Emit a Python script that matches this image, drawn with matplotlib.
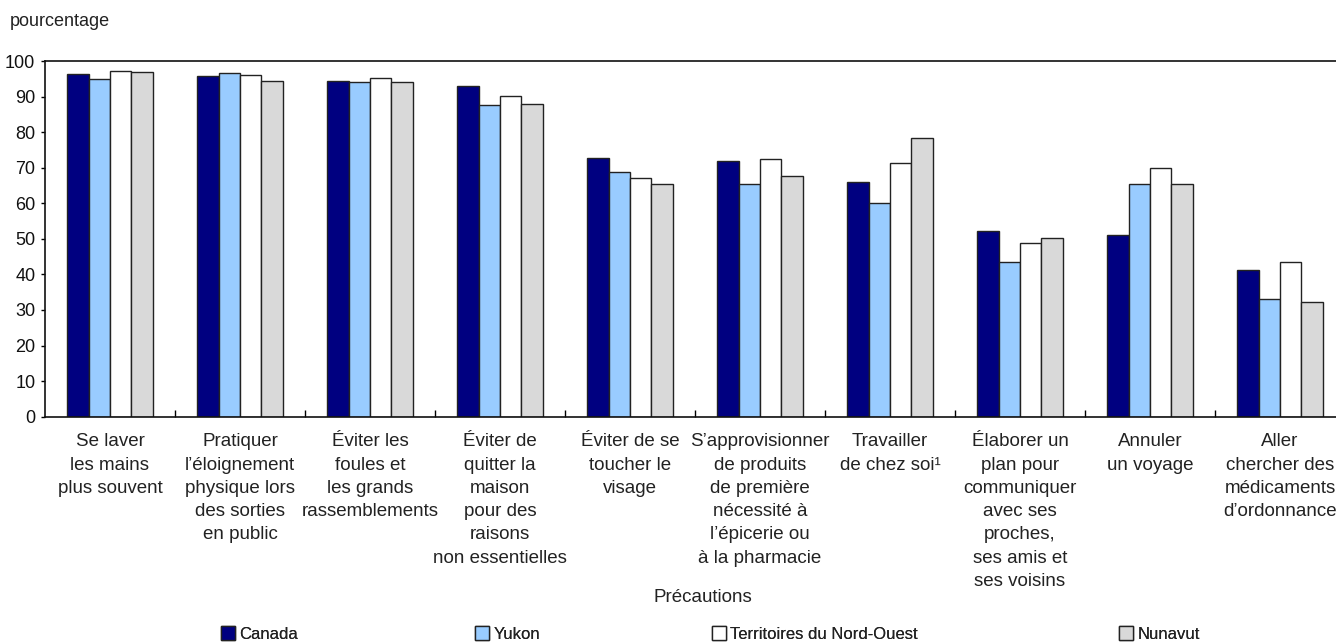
import numpy as np
import matplotlib
matplotlib.use("Agg")
import matplotlib.pyplot as plt
from matplotlib.ticker import FixedLocator

# precautions taken, by region (percent)
categories = [
    "Se laver\nles mains\nplus souvent",
    "Pratiquer\nl\u2019\u00e9loignement\nphysique lors\ndes sorties\nen public",
    "\u00c9viter les\nfoules et\nles grands\nrassemblements",
    "\u00c9viter de\nquitter la\nmaison\npour des\nraisons\nnon essentielles",
    "\u00c9viter de se\ntoucher le\nvisage",
    "S\u2019approvisionner\nde produits\nde premi\u00e8re\nn\u00e9cessit\u00e9 \u00e0\nl\u2019\u00e9picerie ou\n\u00e0 la pharmacie",
    "Travailler\nde chez soi\u00b9",
    "\u00c9laborer un\nplan pour\ncommuniquer\navec ses\nproches,\nses amis et\nses voisins",
    "Annuler\nun voyage",
    "Aller\nchercher des\nm\u00e9dicaments\nd\u2019ordonnance",
]
canada  = [96.3, 95.7, 94.4, 93.1, 72.8, 72.0, 65.9, 52.2, 51.1, 41.2]
yukon   = [94.9, 96.5, 94.2, 87.7, 68.9, 65.5, 60.1, 43.6, 65.5, 33.2]
tno     = [97.3, 96.0, 95.3, 90.2, 67.2, 72.4, 71.3, 48.8, 69.9, 43.6]
nunavut = [96.9, 94.4, 94.2, 88.0, 65.5, 67.7, 78.4, 50.3, 65.4, 32.2]

series = [
    ("Canada", canada, "#000080"),
    ("Yukon", yukon, "#99ccff"),
    ("Territoires du Nord-Ouest", tno, "#ffffff"),
    ("Nunavut", nunavut, "#d9d9d9"),
]

plt.rcParams["font.family"] = ["Liberation Sans", "DejaVu Sans"]

W, H = 1336, 642
fig = plt.figure(figsize=(W / 100, H / 100), dpi=100)
ax = fig.add_axes([45 / W, 225.3 / H, 1300 / W, 355.7 / H])

x = np.arange(len(categories))
w = 0.164
handles = []
for k, (name, vals, col) in enumerate(series):
    b = ax.bar(x + (k - 1.5) * w, vals, width=w, color=col,
               edgecolor="#222222", linewidth=1.0, label=name, zorder=2)
    handles.append(b)

ax.set_xlim(-0.5, len(categories) - 0.5)
ax.set_ylim(0, 100)
ax.set_yticks(range(0, 101, 10))
ax.tick_params(axis="y", labelsize=13, length=3, width=1, pad=4,
               labelcolor="#111111")

ax.set_xticks(x)
ax.set_xticklabels(categories, fontsize=13.5, linespacing=1.48, va="top",
                   color="#222222")
ax.tick_params(axis="x", which="major", length=0, pad=12)
ax.xaxis.set_minor_locator(FixedLocator(x[:-1] + 0.5))
ax.tick_params(axis="x", which="minor", direction="in", length=5, width=1)

for s in ["left", "bottom", "top"]:
    ax.spines[s].set_linewidth(1.2)
    ax.spines[s].set_color("#111111")
ax.spines["right"].set_visible(False)

fig.text(10 / W, 1 - 22 / H, "pourcentage", fontsize=13, va="center",
         ha="left", color="#222222")
fig.text(703 / W, 1 - 597 / H, "Pr\u00e9cautions", fontsize=13.5,
         ha="center", va="center", color="#222222")

# one legend per entry so each sits at its own spot along the bottom
leg_x = [221, 475, 712, 1119]
for h, lx in zip(handles, leg_x):
    leg = fig.legend(handles=[h], loc="center left",
                     bbox_to_anchor=(lx / W, 1 - 634 / H), frameon=False,
                     handlelength=0.85, handleheight=0.85, handletextpad=0.25,
                     borderpad=0, borderaxespad=0, fontsize=12)
    for t in leg.get_texts():
        t.set_color("#222222")
    fig.add_artist(leg)

fig.savefig("out.png", dpi=100)
